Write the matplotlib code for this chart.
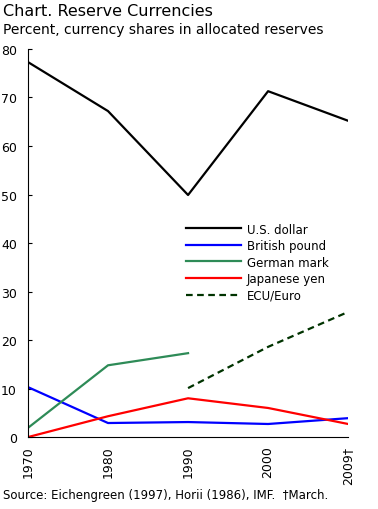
import matplotlib.pyplot as plt
import numpy as np

years = ["1970", "1980", "1990", "2000", "2009\u2020"]
usd = [77.3, 67.2, 49.9, 71.3, 65.2]
gbp = [10.3, 2.9, 3.1, 2.7, 3.9]
dem = [1.9, 14.8, 17.3]
jpy = [0.0, 4.3, 8.0, 6.0, 2.7]
euro = [10.1, 18.6, 25.8]

plt.rcParams['font.family'] = ['DejaVu Sans']

fig = plt.figure(figsize=(3.78, 5.10), dpi=100)
ax = fig.add_axes([0.074, 0.141, 0.847, 0.761])

x = np.arange(len(years))
ax.plot(x, usd, color='black', lw=1.6, label='U.S. dollar')
ax.plot(x, gbp, color='#0000ff', lw=1.6, label='British pound')
ax.plot(x[:3], dem, color='#2e8b57', lw=1.6, label='German mark')
ax.plot(x, jpy, color='#ff0000', lw=1.6, label='Japanese yen')
ax.plot(x[2:], euro, color='#003300', lw=1.6, ls=(0, (3, 2)), label='ECU/Euro')

ax.set_xlim(0, 4)
ax.set_ylim(0, 80)
ax.set_yticks(range(0, 81, 10))
ax.set_xticks(x)
ax.set_xticklabels(years, rotation=90, fontsize=9)
ax.tick_params(axis='y', direction='in', length=3, labelsize=9, pad=8)
ax.tick_params(axis='x', length=0, pad=6)
ax.spines['top'].set_visible(False)
ax.spines['right'].set_visible(False)

ax.legend(loc='upper left', bbox_to_anchor=(0.48, 0.565), frameon=False,
          fontsize=8.5, handlelength=4.6, handletextpad=0.5,
          labelspacing=0.3, borderaxespad=0)

fig.text(0.008, 0.992, "Chart. Reserve Currencies", fontsize=11.5, va='top')
fig.text(0.008, 0.955, "Percent, currency shares in allocated reserves", fontsize=10, va='top')
fig.text(0.008, 0.042, "Source: Eichengreen (1997), Horii (1986), IMF.  \u2020March.",
         fontsize=8.5, va='top')

fig.savefig('out.png', dpi=100)
